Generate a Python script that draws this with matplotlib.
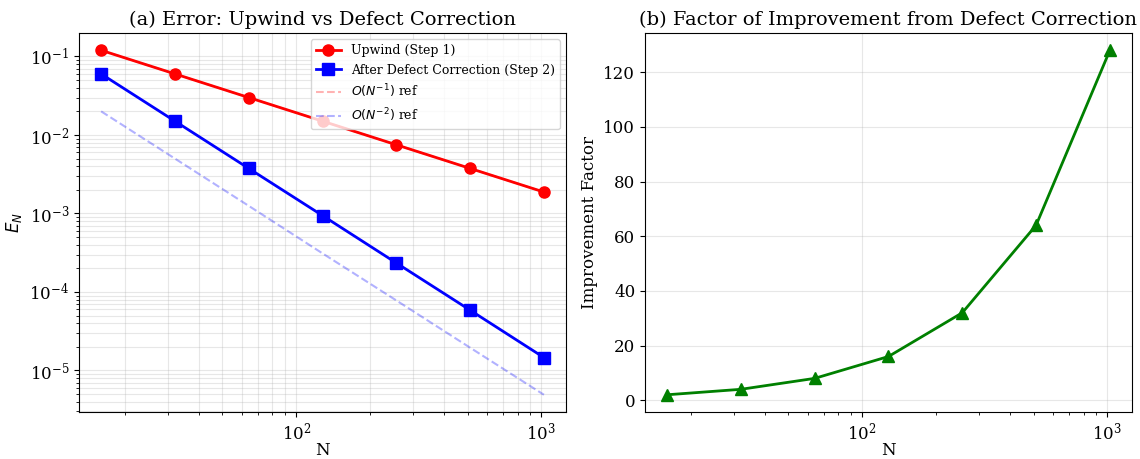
import numpy as np
import matplotlib
matplotlib.use("Agg")
import matplotlib.pyplot as plt

plt.rcParams['font.family'] = 'DejaVu Serif'
plt.rcParams['mathtext.fontset'] = 'dejavusans'

# grid sizes and errors
N = [16, 32, 64, 128, 256, 512, 1024]
err_upwind = [1.2e-1, 6.0e-2, 3.0e-2, 1.5e-2, 7.5e-3, 3.75e-3, 1.875e-3]
err_defect = [6.0e-2, 1.5e-2, 3.75e-3, 9.4e-4, 2.34e-4, 5.86e-5, 1.46e-5]
ref_order1 = [1.2e-1, 6.0e-2, 3.0e-2, 1.5e-2, 7.5e-3, 3.75e-3, 1.875e-3]
ref_order2 = [2.0e-2, 5.0e-3, 1.25e-3, 3.1e-4, 7.8e-5, 1.95e-5, 4.9e-6]
improvement = [2, 4, 8, 16, 32, 64, 128]

fig, (ax1, ax2) = plt.subplots(1, 2, figsize=(11.4, 4.59), dpi=100)
fig.subplots_adjust(left=0.0693, right=0.993, top=0.928, bottom=0.1024, wspace=0.162)

# (a) errors on log-log axes
ax1.loglog(N, err_upwind, 'o-', color='red', lw=2, ms=8, label='Upwind (Step 1)')
ax1.loglog(N, err_defect, 's-', color='blue', lw=2, ms=8,
           label='After Defect Correction (Step 2)')
ax1.loglog(N, ref_order1, '--', color='red', alpha=0.3, label=r'$O(N^{-1})$ ref')
ax1.loglog(N, ref_order2, '--', color='blue', alpha=0.3, label=r'$O(N^{-2})$ ref')
ax1.set_xlabel('N', fontsize=12, labelpad=-1)
ax1.set_ylabel(r'$E_N$', fontsize=12)
ax1.set_title('(a) Error: Upwind vs Defect Correction', fontsize=14)
ax1.tick_params(labelsize=12)
ax1.legend(fontsize=9, loc='upper right')
ax1.grid(True, which='both', alpha=0.3)

# (b) improvement factor
ax2.semilogx(N, improvement, '^-', color='green', lw=2, ms=8)
ax2.set_xlabel('N', fontsize=12, labelpad=-1)
ax2.set_ylabel('Improvement Factor', fontsize=12)
ax2.set_title('(b) Factor of Improvement from Defect Correction', fontsize=14)
ax2.tick_params(labelsize=12)
ax2.grid(True, alpha=0.3)

fig.savefig('out.png', dpi=100)
